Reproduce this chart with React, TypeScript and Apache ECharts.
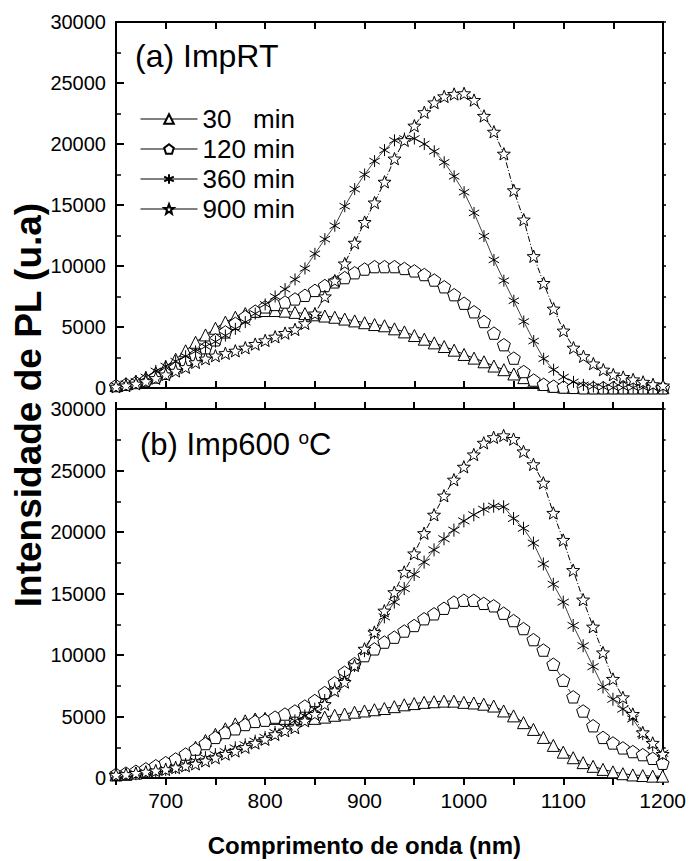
import React, { useEffect, useRef } from "react";
import * as echarts from "echarts";

const WL = [650, 660, 670, 680, 690, 700, 710, 720, 730, 740, 750, 760, 770, 780, 790, 800, 810, 820, 830, 840, 850, 860, 870, 880, 890, 900, 910, 920, 930, 940, 950, 960, 970, 980, 990, 1000, 1010, 1020, 1030, 1040, 1050, 1060, 1070, 1080, 1090, 1100, 1110, 1120, 1130, 1140, 1150, 1160, 1170, 1180, 1190, 1200];

const LEG = ["30   min", "120 min", "360 min", "900 min"];
const Y_TICKS = [0, 5000, 10000, 15000, 20000, 25000, 30000];
const X_TICKS = [700, 800, 900, 1000, 1100, 1200];

// (a) ImpRT
const A30 = [200, 350, 550, 850, 1250, 1750, 2350, 3050, 3750, 4350, 4900, 5400, 5800, 6100, 6300, 6350, 6350, 6300, 6200, 6100, 6000, 5900, 5800, 5650, 5500, 5350, 5200, 5100, 4850, 4600, 4300, 4000, 3700, 3400, 3100, 2750, 2450, 2150, 1800, 1500, 1150, 850, 550, 300, 150, 80, 50, 30, 20, 20, 20, 20, 20, 20, 20, 20];
const A120 = [200, 300, 450, 650, 900, 1200, 1650, 2150, 2700, 3300, 3950, 4600, 5300, 5850, 6300, 6650, 6850, 7050, 7300, 7600, 8000, 8400, 8700, 9050, 9450, 9750, 9950, 9950, 9950, 9800, 9600, 9300, 8850, 8300, 7650, 6950, 6250, 5450, 4500, 3550, 2450, 1350, 650, 300, 150, 80, 50, 20, 20, 20, 20, 20, 20, 20, 20, 20];
const A360 = [200, 350, 550, 900, 1400, 1800, 2200, 2600, 3000, 3400, 3800, 4300, 4850, 5400, 6100, 6850, 7500, 8100, 8900, 9800, 11000, 12200, 13300, 14900, 16300, 17500, 18600, 19500, 20300, 20450, 20450, 20000, 19400, 18500, 17350, 16050, 14350, 12450, 10500, 8800, 7150, 5450, 3850, 2400, 1500, 900, 500, 250, 120, 60, 30, 30, 30, 30, 30, 30];
const A900 = [100, 200, 350, 550, 800, 1100, 1400, 1700, 2100, 2400, 2650, 2850, 3050, 3300, 3600, 3900, 4200, 4500, 4800, 5300, 6100, 7500, 8800, 10200, 11900, 13600, 15200, 16900, 18800, 20300, 21500, 22600, 23400, 23900, 24100, 24150, 23600, 22300, 21000, 19200, 16200, 13800, 10800, 8600, 6500, 4700, 3300, 2600, 2000, 1500, 1100, 900, 700, 500, 300, 200];

// (b) Imp600 °C
const B30 = [250, 300, 400, 550, 750, 1000, 1400, 1950, 2500, 3050, 3550, 4000, 4400, 4650, 4800, 4850, 4850, 4850, 4850, 4850, 4850, 4950, 5100, 5200, 5350, 5450, 5550, 5650, 5800, 5950, 6050, 6150, 6200, 6250, 6250, 6150, 6100, 6000, 5850, 5450, 5050, 4500, 3950, 3300, 2650, 2100, 1650, 1250, 950, 700, 500, 350, 250, 200, 150, 150];
const B120 = [300, 400, 550, 750, 1000, 1250, 1550, 1950, 2350, 2800, 3300, 3700, 4000, 4350, 4600, 4700, 4950, 5200, 5450, 5850, 6300, 6950, 7750, 8600, 9300, 9950, 10500, 11050, 11450, 11950, 12400, 12950, 13350, 13800, 14300, 14450, 14450, 14200, 14000, 13400, 12800, 12150, 11250, 10400, 9250, 7950, 6600, 5450, 4250, 3300, 2850, 2450, 2150, 1900, 1600, 1200];
const B360 = [250, 300, 350, 450, 550, 700, 850, 1100, 1400, 1650, 1900, 2150, 2450, 2700, 3000, 3300, 3700, 4100, 4650, 5050, 5600, 6300, 7250, 8200, 9150, 10350, 11850, 13100, 14300, 15400, 16550, 17550, 18550, 19450, 20150, 20900, 21400, 21850, 22100, 22050, 21100, 20300, 19100, 17400, 15750, 14300, 12400, 10750, 9050, 7400, 6400, 5600, 4800, 3600, 2700, 2000];
const B900 = [250, 300, 400, 500, 600, 700, 850, 1000, 1150, 1400, 1650, 1950, 2200, 2500, 2850, 3150, 3550, 3850, 4100, 4650, 5200, 6000, 7100, 7800, 9150, 10500, 11850, 13600, 15100, 16750, 18250, 19900, 21400, 22950, 24250, 25300, 26300, 27250, 27700, 27850, 27550, 26550, 25500, 24000, 21550, 19350, 16900, 14500, 12300, 10200, 8050, 6550, 5200, 3700, 2850, 1950];

const PENT = "path://M0,-10L9.51,-3.09L5.88,8.09L-5.88,8.09L-9.51,-3.09Z";
const STAR = "path://M0,-10L2.47,-3.4L9.51,-3.09L3.99,1.3L5.88,8.09L0,4.2L-5.88,8.09L-3.99,1.3L-9.51,-3.09L-2.47,-3.4Z";
const AST = "path://M0,-10L0,10M-8.66,-5L8.66,5M-8.66,5L8.66,-5";

const FONT = "Liberation Sans, Arial, sans-serif";

function mk(name: string, vals: number[], g: number, symbol: string, dash: any, lineColor: string, size: number) {
  return {
    type: "line",
    name,
    xAxisIndex: g * 2,
    yAxisIndex: g * 2,
    data: WL.map((w, i) => [w, vals[i]]),
    symbol,
    symbolSize: size,
    symbolKeepAspect: true,
    showAllSymbol: true,
    itemStyle: { color: "#fff", borderColor: "#000", borderWidth: 1 },
    lineStyle: { color: lineColor, width: 1, type: dash },
    emphasis: { disabled: true },
  };
}

function xAxes(g: number) {
  const common = {
    type: "value",
    gridIndex: g,
    min: 650,
    max: 1200,
    interval: 50,
    splitLine: { show: false },
    axisLine: { show: true, onZero: false, lineStyle: { color: "#000", width: 2 } },
  };
  const bottom: any = {
    ...common,
    position: "bottom",
    axisTick: { show: true, inside: g === 0, length: 7, lineStyle: { color: "#000", width: 2 } },
    axisLabel: {
      show: g === 1,
      fontSize: 21,
      fontFamily: FONT,
      color: "#000",
      margin: 12,
      formatter: (v: number) => (X_TICKS.indexOf(v) >= 0 ? String(v) : ""),
    },
  };
  if (g === 1) {
    bottom.name = "Comprimento de onda (nm)";
    bottom.nameLocation = "middle";
    bottom.nameGap = 55;
    bottom.nameTextStyle = {
      fontSize: 24,
      fontWeight: "bold",
      fontFamily: FONT,
      color: "#000",
      padding: [0, 50, 0, 0],
    };
  }
  const top = {
    ...common,
    position: "top",
    axisTick: { show: true, inside: g === 0, length: 7, lineStyle: { color: "#000", width: 2 } },
    axisLabel: { show: false },
  };
  return [bottom, top];
}

function yAxes(g: number) {
  const common = {
    type: "value",
    gridIndex: g,
    min: 0,
    max: 30000,
    splitLine: { show: false },
    axisLine: { show: true, onZero: false, lineStyle: { color: "#000", width: 2 } },
  };
  const left = {
    ...common,
    position: "left",
    interval: 5000,
    axisTick: { show: true, inside: true, length: 8, lineStyle: { color: "#000", width: 2 } },
    minorTick: { show: true, splitNumber: 2, length: 5, lineStyle: { color: "#000", width: 1.5 } },
    axisLabel: {
      fontSize: 20,
      lineHeight: 17,
      fontFamily: FONT,
      color: "#000",
      margin: 10,
      formatter: (v: number) => (Y_TICKS.indexOf(v) >= 0 ? String(v) : ""),
    },
  };
  const right = {
    ...common,
    position: "right",
    interval: 2500,
    axisTick: { show: true, inside: false, length: 3, lineStyle: { color: "#000", width: 1.5 } },
    axisLabel: { show: false },
  };
  return [left, right];
}

export default function App() {
  const ref = useRef<HTMLDivElement>(null);
  useEffect(() => {
    document.body.style.margin = "0";
    const chart = echarts.init(ref.current!, undefined, { renderer: "svg" });
    const option: any = {
      animation: false,
      backgroundColor: "#fff",
      grid: [
        { left: 116, top: 22, width: 547, height: 366 },
        { left: 116, top: 409, width: 547, height: 369 },
      ],
      xAxis: [...xAxes(0), ...xAxes(1)],
      yAxis: [...yAxes(0), ...yAxes(1)],
      legend: {
        data: LEG,
        orient: "vertical",
        left: 140,
        top: 106,
        itemWidth: 57,
        itemHeight: 12,
        itemGap: 4,
        padding: 0,
        selectedMode: false,
        lineStyle: { type: "solid", width: 1, color: "#000" },
        textStyle: { fontSize: 26, lineHeight: 26, fontFamily: FONT, color: "#000" },
      },
      graphic: [
        {
          type: "text",
          left: 135,
          top: 40,
          style: { text: "(a) ImpRT", font: "32px " + FONT, fill: "#000" },
        },
        {
          type: "text",
          left: 140,
          top: 428,
          style: {
            text: "(b) Imp600 {s|o}C",
            font: "31px " + FONT,
            fill: "#000",
            rich: { s: { fontSize: 19, fontFamily: FONT, verticalAlign: "top", padding: [0, 0, 14, 0] } },
          },
        },
        {
          type: "text",
          x: 28,
          y: 405,
          rotation: Math.PI / 2,
          style: {
            text: "Intensidade de PL (u.a)",
            font: "bold 37px " + FONT,
            fill: "#000",
            align: "center",
            verticalAlign: "middle",
          },
        },
      ],
      series: [
        mk(LEG[0], A30, 0, "triangle", "solid", "#000", 12),
        mk(LEG[1], A120, 0, PENT, [6, 2, 1, 2], "#333", 13),
        mk(LEG[2], A360, 0, AST, "solid", "#444", 12),
        mk(LEG[3], A900, 0, STAR, [6, 2, 1, 2], "#000", 13),
        mk(LEG[0], B30, 1, "triangle", "solid", "#000", 12),
        mk(LEG[1], B120, 1, PENT, [6, 2, 1, 2], "#333", 13),
        mk(LEG[2], B360, 1, AST, "solid", "#444", 13),
        mk(LEG[3], B900, 1, STAR, [6, 2, 1, 2], "#000", 13),
      ],
    };
    chart.setOption(option);
    return () => chart.dispose();
  }, []);
  return <div ref={ref} style={{ width: 689, height: 861 }} />;
}
